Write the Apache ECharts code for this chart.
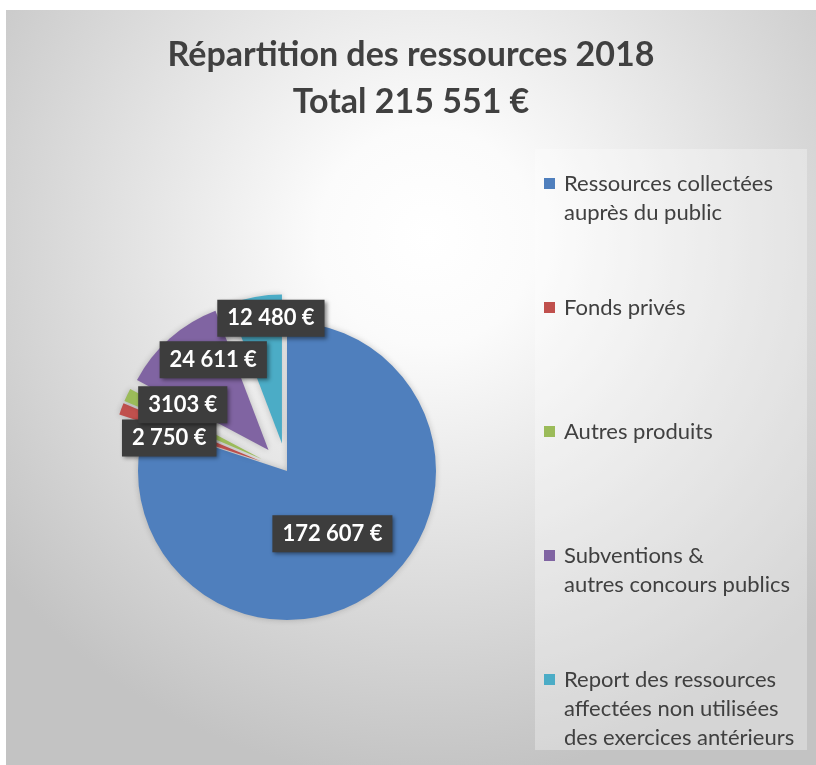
<!DOCTYPE html>
<html>
<head>
<meta charset="utf-8">
<title>Répartition des ressources 2018</title>
<script src="https://cdn.jsdelivr.net/npm/echarts@6/dist/echarts.min.js"></script>
<style>
    body { margin: 0; background: #ffffff; }
    #pie-chart { position: absolute; left: 6px; top: 10px; width: 810px; height: 755px; }
</style>
</head>
<body>
<div id="pie-chart"></div>
<script>
const categories = [
    'Ressources collectées\nauprès du public',
    'Fonds privés',
    'Autres produits',
    'Subventions &\nautres concours publics',
    'Report des ressources\naffectées non utilisées\ndes exercices antérieurs'
];
const amounts = [172607, 2750, 3103, 24611, 12480];
const valueLabels = ['172 607 €', '2 750 €', '3103 €', '24 611 €', '12 480 €'];
const exploded = [false, true, true, true, true];

const colors = ['#4f7fbd', '#c0504d', '#9bbb59', '#8064a2', '#4bacc6'];
// nudges so the small slice labels stack like in the original
const labelNudge = [[0, 0], [-19, 4], [-9, -21], [-4, -32], [3, -49]];

function legend_name(name){
    // keep the square beside the first line of each entry
    const lines = ['', ''].concat(name.split('\n'));
    while (lines.length < 5) lines.push('');
    return lines.join('\n');
}

function render_pie(){
    const myChart = echarts.init(document.getElementById('pie-chart'));

    const pieData = categories.map(function(name, i){
        return {
            name: name,
            value: amounts[i],
            selected: exploded[i],
            itemStyle: { color: colors[i] },
            label: { formatter: valueLabels[i] }
        };
    });

    option = {
        backgroundColor: {
            type: 'radial', x: 0.52, y: 0.3, r: 0.72,
            colorStops: [
                { offset: 0, color: '#ffffff' },
                { offset: 0.2, color: '#fbfbfb' },
                { offset: 1, color: '#c3c3c3' }
            ]
        },
        title: {
            text: 'Répartition des ressources 2018\nTotal 215 551 €',
            left: 'center',
            top: 17,
            padding: [5, 0, 5, 8],
            textStyle: {
                fontFamily: 'Lato',
                fontWeight: 'bold',
                fontSize: 34,
                lineHeight: 47,
                color: '#404040'
            }
        },
        graphic: [{
            type: 'rect',
            left: 529, top: 139,
            shape: { width: 272, height: 601 },
            style: { fill: 'rgba(255,255,255,0.3)' },
            z: -1
        }],
        legend: {
            orient: 'vertical',
            left: 538,
            top: 101,
            padding: 0,
            itemWidth: 11,
            itemHeight: 11,
            itemGap: -21,
            icon: 'rect',
            selectedMode: false,
            data: categories,
            formatter: legend_name,
            textStyle: {
                fontFamily: 'Lato',
                fontSize: 22,
                lineHeight: 29,
                color: '#404040',
                padding: [0, 0, 0, 4]
            }
        },
        series: [{
            type: 'pie',
            center: [281, 461],
            radius: 149,
            startAngle: 90,
            clockwise: true,
            selectedMode: 'multiple',
            selectedOffset: 28,
            animation: false,
            data: pieData,
            itemStyle: {
                shadowBlur: 6,
                shadowColor: 'rgba(0,0,0,0.2)'
            },
            label: {
                position: 'inside',
                color: '#ffffff',
                fontFamily: 'Lato',
                fontWeight: 'bold',
                fontSize: 22,
                backgroundColor: '#3d3d3d',
                padding: [8, 10, 7, 10],
                shadowBlur: 4,
                shadowColor: 'rgba(0,0,0,0.45)',
                shadowOffsetX: 2,
                shadowOffsetY: 2
            },
            labelLine: { show: false },
            labelLayout: function(params){
                const n = labelNudge[params.dataIndex];
                return { dx: n[0], dy: n[1] };
            },
            emphasis: { disabled: true }
        }]
    };

    myChart.setOption(option, true);
}

render_pie();
</script>
</body>
</html>
